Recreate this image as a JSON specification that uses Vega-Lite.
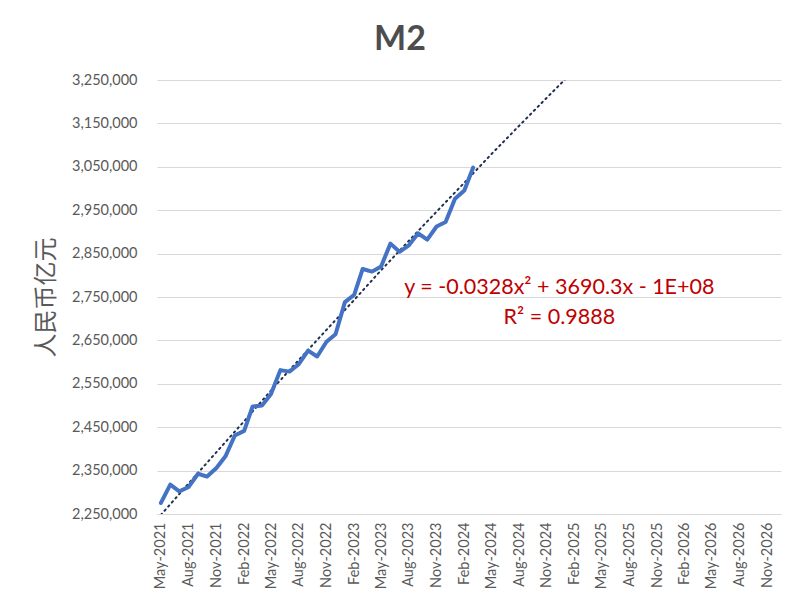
{
  "$schema": "https://vega.github.io/schema/vega-lite/v6.json",
  "autosize": {"type": "none"},
  "width": 624,
  "height": 434,
  "padding": {"left": 157, "top": 80, "right": 19, "bottom": 89},
  "background": "white",
  "title": {
    "text": "M2",
    "font": "Lato",
    "fontSize": 34,
    "fontWeight": "bold",
    "color": "#4d4d4d",
    "anchor": "middle",
    "dx": -69,
    "offset": 15
  },
  "datasets": {
    "m2": [
      {"date": "2021-05-01T00:00", "value": 2275500},
      {"date": "2021-06-01T00:00", "value": 2317800},
      {"date": "2021-07-01T00:00", "value": 2302200},
      {"date": "2021-08-01T00:00", "value": 2312300},
      {"date": "2021-09-01T00:00", "value": 2342800},
      {"date": "2021-10-01T00:00", "value": 2336200},
      {"date": "2021-11-01T00:00", "value": 2356000},
      {"date": "2021-12-01T00:00", "value": 2382900},
      {"date": "2022-01-01T00:00", "value": 2431000},
      {"date": "2022-02-01T00:00", "value": 2441500},
      {"date": "2022-03-01T00:00", "value": 2497700},
      {"date": "2022-04-01T00:00", "value": 2499700},
      {"date": "2022-05-01T00:00", "value": 2526500},
      {"date": "2022-06-01T00:00", "value": 2581500},
      {"date": "2022-07-01T00:00", "value": 2578100},
      {"date": "2022-08-01T00:00", "value": 2595100},
      {"date": "2022-09-01T00:00", "value": 2626600},
      {"date": "2022-10-01T00:00", "value": 2612900},
      {"date": "2022-11-01T00:00", "value": 2647000},
      {"date": "2022-12-01T00:00", "value": 2664300},
      {"date": "2023-01-01T00:00", "value": 2738100},
      {"date": "2023-02-01T00:00", "value": 2755200},
      {"date": "2023-03-01T00:00", "value": 2814600},
      {"date": "2023-04-01T00:00", "value": 2808500},
      {"date": "2023-05-01T00:00", "value": 2820500},
      {"date": "2023-06-01T00:00", "value": 2873000},
      {"date": "2023-07-01T00:00", "value": 2854200},
      {"date": "2023-08-01T00:00", "value": 2869000},
      {"date": "2023-09-01T00:00", "value": 2896700},
      {"date": "2023-10-01T00:00", "value": 2882300},
      {"date": "2023-11-01T00:00", "value": 2912500},
      {"date": "2023-12-01T00:00", "value": 2922700},
      {"date": "2024-01-01T00:00", "value": 2976200},
      {"date": "2024-02-01T00:00", "value": 2995600},
      {"date": "2024-03-01T00:00", "value": 3048000}
    ],
    "trend": [
      {"date": "2021-05-01T00:00", "value": 2248000},
      {"date": "2021-08-01T00:00", "value": 2320500},
      {"date": "2021-11-01T00:00", "value": 2392500},
      {"date": "2022-02-01T00:00", "value": 2463800},
      {"date": "2022-05-01T00:00", "value": 2534600},
      {"date": "2022-08-01T00:00", "value": 2604800},
      {"date": "2022-11-01T00:00", "value": 2674300},
      {"date": "2023-02-01T00:00", "value": 2743300},
      {"date": "2023-05-01T00:00", "value": 2811700},
      {"date": "2023-08-01T00:00", "value": 2879500},
      {"date": "2023-11-01T00:00", "value": 2946700},
      {"date": "2024-02-01T00:00", "value": 3013300},
      {"date": "2024-05-01T00:00", "value": 3079300},
      {"date": "2024-08-01T00:00", "value": 3144700},
      {"date": "2024-11-01T00:00", "value": 3209500},
      {"date": "2025-02-01T00:00", "value": 3273800},
      {"date": "2025-05-01T00:00", "value": 3337400}
    ],
    "eq": [
      {"date": "2024-12-12T00:00", "value": 2770700, "text": "y = -0.0328x² + 3690.3x - 1E+08"},
      {"date": "2024-12-12T00:00", "value": 2701600, "text": "R² = 0.9888"}
    ]
  },
  "encoding": {
    "x": {
      "field": "date",
      "type": "temporal",
      "scale": {
        "domain": [
          {"year": 2021, "month": 4, "date": 18},
          {"year": 2026, "month": 12, "date": 17}
        ]
      },
      "axis": {
        "title": null,
        "format": "%b-%Y",
        "labelAngle": -90,
        "labelAlign": "right",
        "labelBaseline": "middle",
        "values": [
          {"year": 2021, "month": 5, "date": 1},
          {"year": 2021, "month": 8, "date": 1},
          {"year": 2021, "month": 11, "date": 1},
          {"year": 2022, "month": 2, "date": 1},
          {"year": 2022, "month": 5, "date": 1},
          {"year": 2022, "month": 8, "date": 1},
          {"year": 2022, "month": 11, "date": 1},
          {"year": 2023, "month": 2, "date": 1},
          {"year": 2023, "month": 5, "date": 1},
          {"year": 2023, "month": 8, "date": 1},
          {"year": 2023, "month": 11, "date": 1},
          {"year": 2024, "month": 2, "date": 1},
          {"year": 2024, "month": 5, "date": 1},
          {"year": 2024, "month": 8, "date": 1},
          {"year": 2024, "month": 11, "date": 1},
          {"year": 2025, "month": 2, "date": 1},
          {"year": 2025, "month": 5, "date": 1},
          {"year": 2025, "month": 8, "date": 1},
          {"year": 2025, "month": 11, "date": 1},
          {"year": 2026, "month": 2, "date": 1},
          {"year": 2026, "month": 5, "date": 1},
          {"year": 2026, "month": 8, "date": 1},
          {"year": 2026, "month": 11, "date": 1}
        ],
        "grid": false,
        "ticks": false,
        "domainColor": "#d9d9d9",
        "domainWidth": 1,
        "labelPadding": 8,
        "labelFont": "Lato",
        "labelFontSize": 14.5,
        "labelColor": "#595959",
        "labelOverlap": false,
        "labelFlush": false
      }
    },
    "y": {
      "field": "value",
      "type": "quantitative",
      "scale": {"domain": [2250000, 3250000], "zero": false, "nice": false},
      "axis": {
        "values": [2250000, 2350000, 2450000, 2550000, 2650000, 2750000, 2850000, 2950000, 3050000, 3150000, 3250000],
        "format": ",.0f",
        "grid": true,
        "gridColor": "#d9d9d9",
        "gridWidth": 1,
        "domain": false,
        "ticks": false,
        "labelPadding": 20,
        "labelFont": "Lato",
        "labelFontSize": 14.5,
        "labelColor": "#595959",
        "labelOverlap": false,
        "title": "人民币亿元",
        "titleFont": "Noto Sans CJK SC",
        "titleFontSize": 24,
        "titleFontWeight": "normal",
        "titleColor": "#595959",
        "titlePadding": 13
      }
    }
  },
  "layer": [
    {
      "data": {"name": "trend"},
      "mark": {"type": "line", "color": "#1f2f4f", "strokeWidth": 2, "strokeDash": [1.5, 4], "strokeCap": "round", "clip": true}
    },
    {
      "data": {"name": "m2"},
      "mark": {"type": "line", "color": "#4472C4", "strokeWidth": 4, "strokeJoin": "round", "strokeCap": "round"}
    },
    {
      "data": {"name": "eq"},
      "mark": {"type": "text", "font": "Lato", "fontSize": 21.5, "color": "#c00000", "align": "center", "baseline": "middle"},
      "encoding": {"text": {"field": "text", "type": "nominal"}}
    }
  ],
  "config": {"view": {"stroke": null}}
}
